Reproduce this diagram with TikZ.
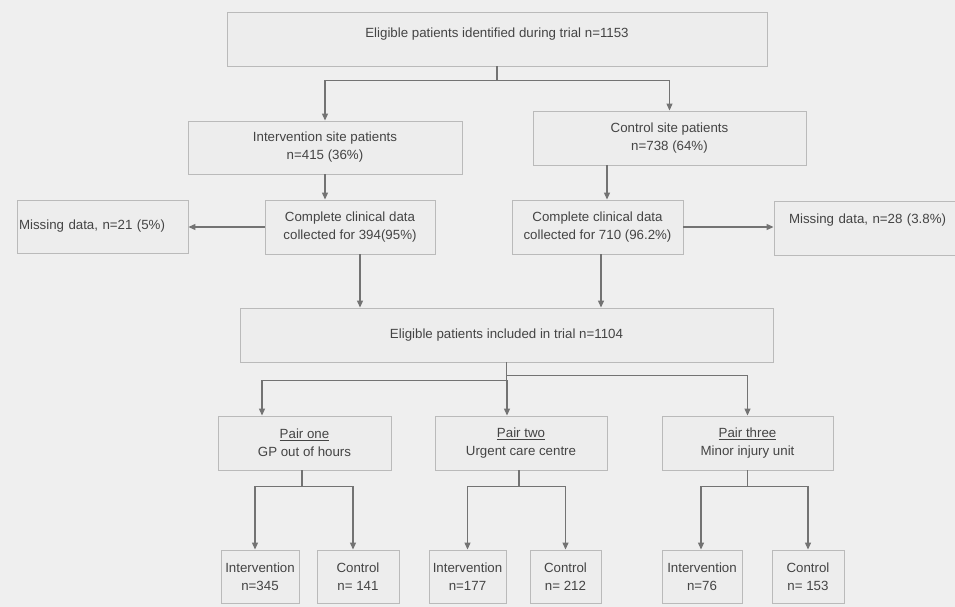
\documentclass[tikz,border=0pt]{standalone}
\usepackage{fontspec}
\setmainfont{Liberation Sans}
\usetikzlibrary{arrows.meta, calc, shadows}

\definecolor{bgcol}{HTML}{EFEFEF}
\definecolor{boxfill}{HTML}{EDEDED}
\definecolor{boxline}{HTML}{BABABA}
\definecolor{linkcol}{HTML}{737373}
\definecolor{textcol}{HTML}{444444}

\begin{document}
\begin{tikzpicture}[x=1pt, y=-1pt,
                    box/.style={rectangle, draw=boxline, fill=boxfill, line width=0.9pt, inner sep=0pt,
                                align=center, text=textcol, font=\fontsize{13.3}{18}\selectfont,
                                drop shadow={shadow xshift=1pt, shadow yshift=-1pt, opacity=0.12}},
                    link/.style={-{Triangle[length=7pt, width=6pt]}, line width=1.2pt, draw=linkcol}]

    \fill[bgcol] (0,0) rectangle (955,607);
    \useasboundingbox (0,0) rectangle (955,607);

    % first level
    \node[box, minimum width=540, minimum height=54, text depth=13pt] (top) at (497,39)
        {Eligible patients identified during trial n=1153};

    \node[box, minimum width=274, minimum height=53] (intsite) at (325,147.5)
        {Intervention site patients\\n=415 (36\%)};
    \node[box, minimum width=273, minimum height=54] (ctlsite) at (669.5,138)
        {Control site patients\\n=738 (64\%)};

    \node[box, minimum width=170, minimum height=54] (intdata) at (350,227)
        {Complete clinical data\\collected for 394(95\%)};
    \node[box, minimum width=171, minimum height=54] (ctldata) at (597.5,227)
        {Complete clinical data\\collected for 710 (96.2\%)};

    \node[box, text width=167pt, inner xsep=2pt, align=left, minimum height=53] (intmiss) at (102.5,226.5)
        {Missing data, n=21 (5\%)};
    \node[box, text width=170pt, inner xsep=15pt, align=left, minimum height=54] (ctlmiss) at (874,228)
        {Missing data, n=28 (3.8\%)\\\mbox{}};

    \node[box, minimum width=533, minimum height=54] (incl) at (506.5,335)
        {Eligible patients included in trial n=1104};

    % pairs
    \node[box, minimum width=173, minimum height=54] (pair1) at (304.5,443)
        {\underline{Pair one}\\GP out of hours};
    \node[box, minimum width=172, minimum height=54] (pair2) at (521,443)
        {\underline{Pair two}\\Urgent care centre};
    \node[box, minimum width=171, minimum height=54] (pair3) at (747.5,443)
        {\underline{Pair three}\\Minor injury unit};

    % arms
    \node[box, minimum width=78, minimum height=53] (int1) at (260,576.5) {Intervention\\n=345};
    \node[box, minimum width=82, minimum height=53] (ctl1) at (358,576.5) {Control\\n= 141};
    \node[box, minimum width=77, minimum height=53] (int2) at (467.5,576.5) {Intervention\\n=177};
    \node[box, minimum width=71, minimum height=53] (ctl2) at (565.5,576.5) {Control\\n= 212};
    \node[box, minimum width=80, minimum height=53] (int3) at (702,576.5) {Intervention\\n=76};
    \node[box, minimum width=72, minimum height=53] (ctl3) at (808,576.5) {Control\\n= 153};

    % connectors
    \draw[link] (top.south) -- ++(0,14) -| (intsite.north);
    \draw[link] (top.south) -- ++(0,14) -| (ctlsite.north);

    \draw[link] (intsite.south) -- (intsite.south |- intdata.north);
    \draw[link] ([xshift=-62.5pt]ctlsite.south) -- ([xshift=-62.5pt]ctlsite.south |- ctldata.north);

    \draw[link] (intdata.west) -- (intdata.west -| intmiss.east);
    \draw[link] (ctldata.east) -- (ctldata.east -| ctlmiss.west);

    \draw[link] ([xshift=10pt]intdata.south) -- ([xshift=10pt]intdata.south |- incl.north);
    \draw[link] ([xshift=3.5pt]ctldata.south) -- ([xshift=3.5pt]ctldata.south |- incl.north);

    \draw[link] (incl.south) -- ++(0,18) -| ([xshift=-42.5pt]pair1.north);
    \draw[link] (incl.south) -- ++(0,18) -| ([xshift=-14pt]pair2.north);
    \draw[link] (incl.south) -- ++(0,13) -| (pair3.north);

    \draw[link] ([xshift=-2.5pt]pair1.south) -- ++(0,16) -| ([xshift=-5pt]int1.north);
    \draw[link] ([xshift=-2.5pt]pair1.south) -- ++(0,16) -| ([xshift=-5pt]ctl1.north);
    \draw[link] ([xshift=-2pt]pair2.south) -- ++(0,16) -| (int2.north);
    \draw[link] ([xshift=-2pt]pair2.south) -- ++(0,16) -| (ctl2.north);
    \draw[link] (pair3.south) -- ++(0,16) -| ([xshift=-1pt]int3.north);
    \draw[link] (pair3.south) -- ++(0,16) -| (ctl3.north);
\end{tikzpicture}
\end{document}
